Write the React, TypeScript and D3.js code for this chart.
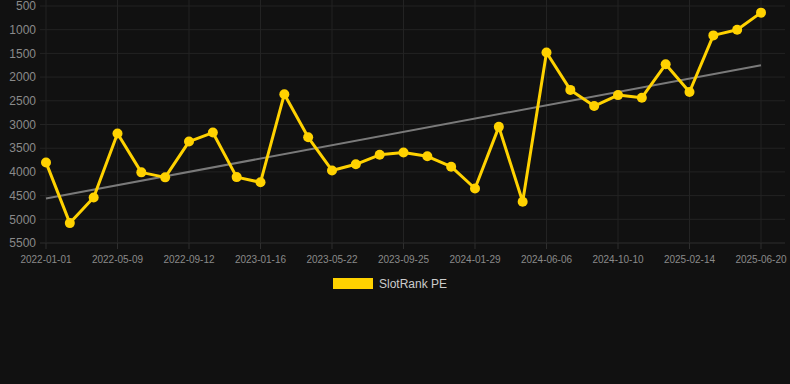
import React from "react";
import * as d3 from "d3";

const dates = [
  "2022-01-01", "2022-02-12", "2022-03-26", "2022-05-09", "2022-06-20",
  "2022-08-01", "2022-09-12", "2022-10-24", "2022-12-05", "2023-01-16",
  "2023-02-27", "2023-04-10", "2023-05-22", "2023-07-03", "2023-08-14",
  "2023-09-25", "2023-11-06", "2023-12-18", "2024-01-29", "2024-03-12",
  "2024-04-24", "2024-06-06", "2024-07-18", "2024-08-29", "2024-10-10",
  "2024-11-21", "2025-01-02", "2025-02-14", "2025-03-28", "2025-05-09",
  "2025-06-20",
];
const tickLabels = [
  "2022-01-01", "2022-05-09", "2022-09-12", "2023-01-16", "2023-05-22",
  "2023-09-25", "2024-01-29", "2024-06-06", "2024-10-10", "2025-02-14", "2025-06-20",
];
const values = [
  3800, 5080, 4540, 3190, 4010, 4115, 3360, 3170, 4110, 4220,
  2360, 3270, 3970, 3840, 3640, 3590, 3670, 3890, 4350, 3050,
  4630, 1480, 2270, 2610, 2380, 2435, 1730, 2315, 1120, 1000, 640,
];
const yTicks = [500, 1000, 1500, 2000, 2500, 3000, 3500, 4000, 4500, 5000, 5500];
const seriesName = "SlotRank PE";

export default function App() {
  const W = 790, H = 384;
  const left = 46, right = 761, top = 6, bottom = 243;
  const n = values.length;
  const idx = d3.range(n);
  const x = d3.scalePoint<string>().domain(dates).range([left, right]);
  const y = d3.scaleLinear().domain([500, 5500]).range([top, bottom]);

  // linear regression trend
  const mx = d3.mean(idx)!;
  const my = d3.mean(values)!;
  const slope =
    d3.sum(idx, (i) => (i - mx) * (values[i] - my)) /
    d3.sum(idx, (i) => (i - mx) * (i - mx));
  const intercept = my - slope * mx;
  const trend = [0, n - 1].map((i) => [x(dates[i])!, y(intercept + slope * i)] as [number, number]);

  const line = d3.line<number>().x((i) => x(dates[i])!).y((i) => y(values[i]));
  const gold = "#FFD200";
  const gridColor = "#232323";

  return (
    <svg width={W} height={H} style={{ position: "absolute", left: 0, top: 0, background: "#111111" }}>
      <rect width={W} height={H} fill="#111111" />
      {yTicks.map((t) => (
        <g key={t}>
          <line x1={40} x2={785} y1={y(t)} y2={y(t)} stroke={t === 5500 ? "#2e2e2e" : gridColor} strokeWidth={1} />
          <text x={36} y={y(t)} dy="0.35em" textAnchor="end" fill="#8a8a8a" fontSize={12} fontFamily="Liberation Sans, Arial, sans-serif">
            {t}
          </text>
        </g>
      ))}
      {tickLabels.map((lab) => {
        const xi = x(lab)!;
        return (
          <g key={lab}>
            <line x1={xi} x2={xi} y1={0} y2={bottom} stroke={gridColor} strokeWidth={1} />
            <line x1={xi} x2={xi} y1={bottom} y2={bottom + 6} stroke="#2e2e2e" strokeWidth={1} />
            <text x={xi} y={259} dy="0.35em" textAnchor="middle" fill="#8a8a8a" fontSize={10} fontFamily="Liberation Sans, Arial, sans-serif">
              {lab}
            </text>
          </g>
        );
      })}
      <line x1={trend[0][0]} y1={trend[0][1]} x2={trend[1][0]} y2={trend[1][1]} stroke="#7a7a7a" strokeWidth={2} />
      <path d={line(idx) || ""} fill="none" stroke={gold} strokeWidth={3} strokeLinejoin="round" />
      {idx.map((i) => (
        <circle key={dates[i]} cx={x(dates[i])!} cy={y(values[i])} r={5} fill={gold} />
      ))}
      <rect x={333} y={278} width={40} height={11} fill={gold} />
      <text x={379} y={284} dy="0.35em" fill="#cccccc" fontSize={12} fontFamily="Liberation Sans, Arial, sans-serif">
        {seriesName}
      </text>
    </svg>
  );
}
